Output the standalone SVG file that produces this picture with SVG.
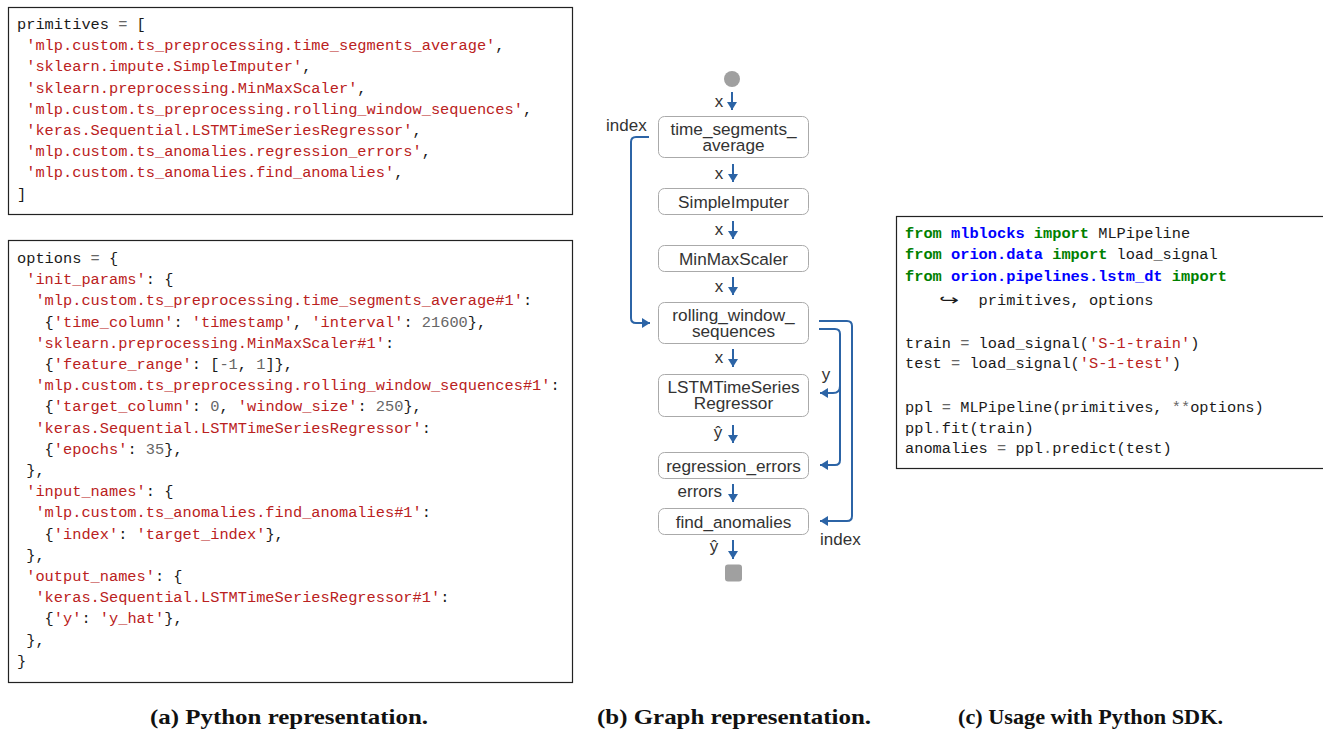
<svg xmlns="http://www.w3.org/2000/svg" width="1323" height="731" viewBox="0 0 1323 731">
<style>
.code{font-family:"Liberation Mono","DejaVu Sans Mono",monospace;font-size:15.33px;fill:#1a1a1a;white-space:pre}
.s{fill:#ba2121}
.o{fill:#666666}
.k{fill:#008000;font-weight:bold}
.nn{fill:#0000ff;font-weight:bold}
.box{fill:#ffffff;stroke:#222222;stroke-width:1.2}
.node rect{fill:#ffffff;stroke:#aaaaaa;stroke-width:1}
.nt{font-family:"Liberation Sans",Arial,sans-serif;font-size:17.2px;fill:#333333;text-anchor:middle}
.lb{font-family:"Liberation Sans",Arial,sans-serif;font-size:17px;fill:#333333}
.edge{fill:none;stroke:#2c64a6;stroke-width:2}
.cap{font-family:"Liberation Serif","Times New Roman",serif;font-weight:bold;font-size:22px;fill:#111111}
</style>
<defs>
<marker id="ah" viewBox="0 0 8 10" refX="8" refY="5" markerWidth="8" markerHeight="10" markerUnits="userSpaceOnUse" orient="auto">
<path d="M0,0 L8,5 L0,10 z" fill="#2c64a6"/>
</marker>
</defs>
<rect width="1323" height="731" fill="#ffffff"/>

<g id="primitives-box">
<rect class="box" x="8.5" y="7.5" width="564" height="207"/>
<text class="code" x="17" y="29">primitives <tspan class="o">=</tspan> [</text>
<text class="code" x="26.2" y="50.2"><tspan class="s">'mlp.custom.ts_preprocessing.time_segments_average'</tspan>,</text>
<text class="code" x="26.2" y="71.4"><tspan class="s">'sklearn.impute.SimpleImputer'</tspan>,</text>
<text class="code" x="26.2" y="92.6"><tspan class="s">'sklearn.preprocessing.MinMaxScaler'</tspan>,</text>
<text class="code" x="26.2" y="113.8"><tspan class="s">'mlp.custom.ts_preprocessing.rolling_window_sequences'</tspan>,</text>
<text class="code" x="26.2" y="135"><tspan class="s">'keras.Sequential.LSTMTimeSeriesRegressor'</tspan>,</text>
<text class="code" x="26.2" y="156.2"><tspan class="s">'mlp.custom.ts_anomalies.regression_errors'</tspan>,</text>
<text class="code" x="26.2" y="177.4"><tspan class="s">'mlp.custom.ts_anomalies.find_anomalies'</tspan>,</text>
<text class="code" x="17" y="198.6">]</text>
</g>

<g id="options-box">
<rect class="box" x="8.5" y="240.5" width="564" height="442"/>
<text class="code" x="17" y="263">options <tspan class="o">=</tspan> {</text>
<text class="code" x="26.2" y="284.2"><tspan class="s">'init_params'</tspan>: {</text>
<text class="code" x="35.4" y="305.4"><tspan class="s">'mlp.custom.ts_preprocessing.time_segments_average#1'</tspan>:</text>
<text class="code" x="44.6" y="326.6">{<tspan class="s">'time_column'</tspan>: <tspan class="s">'timestamp'</tspan>, <tspan class="s">'interval'</tspan>: <tspan class="o">21600</tspan>},</text>
<text class="code" x="35.4" y="347.8"><tspan class="s">'sklearn.preprocessing.MinMaxScaler#1'</tspan>:</text>
<text class="code" x="44.6" y="369">{<tspan class="s">'feature_range'</tspan>: [<tspan class="o">-1</tspan>, <tspan class="o">1</tspan>]},</text>
<text class="code" x="35.4" y="390.2"><tspan class="s">'mlp.custom.ts_preprocessing.rolling_window_sequences#1'</tspan>:</text>
<text class="code" x="44.6" y="411.4">{<tspan class="s">'target_column'</tspan>: <tspan class="o">0</tspan>, <tspan class="s">'window_size'</tspan>: <tspan class="o">250</tspan>},</text>
<text class="code" x="35.4" y="432.6"><tspan class="s">'keras.Sequential.LSTMTimeSeriesRegressor'</tspan>:</text>
<text class="code" x="44.6" y="453.8">{<tspan class="s">'epochs'</tspan>: <tspan class="o">35</tspan>},</text>
<text class="code" x="26.2" y="475">},</text>
<text class="code" x="26.2" y="496.2"><tspan class="s">'input_names'</tspan>: {</text>
<text class="code" x="35.4" y="517.4"><tspan class="s">'mlp.custom.ts_anomalies.find_anomalies#1'</tspan>:</text>
<text class="code" x="44.6" y="538.6">{<tspan class="s">'index'</tspan>: <tspan class="s">'target_index'</tspan>},</text>
<text class="code" x="26.2" y="559.8">},</text>
<text class="code" x="26.2" y="581"><tspan class="s">'output_names'</tspan>: {</text>
<text class="code" x="35.4" y="602.2"><tspan class="s">'keras.Sequential.LSTMTimeSeriesRegressor#1'</tspan>:</text>
<text class="code" x="44.6" y="623.4">{<tspan class="s">'y'</tspan>: <tspan class="s">'y_hat'</tspan>},</text>
<text class="code" x="26.2" y="644.6">},</text>
<text class="code" x="17" y="665.8">}</text>
</g>

<g id="sdk-box">
<rect class="box" x="896.5" y="216.5" width="440" height="252"/>
<text class="code" x="905" y="238"><tspan class="k">from</tspan> <tspan class="nn">mlblocks</tspan> <tspan class="k">import</tspan> MLPipeline</text>
<text class="code" x="905" y="259"><tspan class="k">from</tspan> <tspan class="nn">orion.data</tspan> <tspan class="k">import</tspan> load_signal</text>
<text class="code" x="905" y="281"><tspan class="k">from</tspan> <tspan class="nn">orion.pipelines.lstm_dt</tspan> <tspan class="k">import</tspan></text>
<text x="939" y="305" textLength="20" lengthAdjust="spacingAndGlyphs" style="font-family:'DejaVu Sans',sans-serif;font-size:15px;fill:#1a1a1a">↪</text>
<text class="code" x="978.6" y="305">primitives, options</text>
<text class="code" x="905" y="348">train <tspan class="o">=</tspan> load_signal(<tspan class="s">'S-1-train'</tspan>)</text>
<text class="code" x="905" y="368">test <tspan class="o">=</tspan> load_signal(<tspan class="s">'S-1-test'</tspan>)</text>
<text class="code" x="905" y="412">ppl <tspan class="o">=</tspan> MLPipeline(primitives, <tspan class="o">**</tspan>options)</text>
<text class="code" x="905" y="433">ppl<tspan class="o">.</tspan>fit(train)</text>
<text class="code" x="905" y="453">anomalies <tspan class="o">=</tspan> ppl<tspan class="o">.</tspan>predict(test)</text>
</g>

<g id="graph-input"><circle cx="732" cy="79" r="8" fill="#a0a0a0"/></g>
<g id="graph-output"><rect x="725" y="564.5" width="17" height="17" rx="3" fill="#a0a0a0"/></g>

<g id="node-time_segments_average" class="node">
<rect x="658.5" y="116.5" width="150" height="41" rx="6"/>
<text class="nt" x="733.5" y="135">time_segments_</text>
<text class="nt" x="733.5" y="151">average</text>
</g>
<g id="node-SimpleImputer" class="node">
<rect x="658.5" y="188.5" width="150" height="26" rx="6"/>
<text class="nt" x="733.5" y="207.5">SimpleImputer</text>
</g>
<g id="node-MinMaxScaler" class="node">
<rect x="658.5" y="245.5" width="150" height="26" rx="6"/>
<text class="nt" x="733.5" y="264.5">MinMaxScaler</text>
</g>
<g id="node-rolling_window_sequences" class="node">
<rect x="658.5" y="302.5" width="150" height="41" rx="6"/>
<text class="nt" x="733.5" y="320.5">rolling_window_</text>
<text class="nt" x="733.5" y="336.5">sequences</text>
</g>
<g id="node-LSTMTimeSeriesRegressor" class="node">
<rect x="658.5" y="374.5" width="150" height="42" rx="6"/>
<text class="nt" x="733.5" y="393">LSTMTimeSeries</text>
<text class="nt" x="733.5" y="409">Regressor</text>
</g>
<g id="node-regression_errors" class="node">
<rect x="658.5" y="452.5" width="150" height="26" rx="6"/>
<text class="nt" x="733.5" y="471.5">regression_errors</text>
</g>
<g id="node-find_anomalies" class="node">
<rect x="658.5" y="508.5" width="150" height="26" rx="6"/>
<text class="nt" x="733.5" y="527.5">find_anomalies</text>
</g>

<g id="connectors">
<path class="edge" marker-end="url(#ah)" d="M732,92 V110"/>
<path class="edge" marker-end="url(#ah)" d="M733,164 V182"/>
<path class="edge" marker-end="url(#ah)" d="M733,221 V239"/>
<path class="edge" marker-end="url(#ah)" d="M733,277 V295"/>
<path class="edge" marker-end="url(#ah)" d="M733,349 V367"/>
<path class="edge" marker-end="url(#ah)" d="M733,425 V443"/>
<path class="edge" marker-end="url(#ah)" d="M733,484 V502"/>
<path class="edge" marker-end="url(#ah)" d="M733,540 V559"/>
<path class="edge" marker-end="url(#ah)" d="M649,137 H636 Q631,137 631,142 V318 Q631,323 636,323 H650"/>
<path class="edge" marker-end="url(#ah)" d="M819,321 H847 Q852,321 852,326 V516 Q852,521 847,521 H820"/>
<path class="edge" marker-end="url(#ah)" d="M819,329 H835 Q840,329 840,334 V460 Q840,465 835,465 H820"/>
<path class="edge" marker-end="url(#ah)" d="M840,386 Q840,393 833,393 H820"/>
<text class="lb" x="719" y="107" text-anchor="middle">x</text>
<text class="lb" x="719" y="179" text-anchor="middle">x</text>
<text class="lb" x="719" y="235" text-anchor="middle">x</text>
<text class="lb" x="719" y="292" text-anchor="middle">x</text>
<text class="lb" x="719" y="363" text-anchor="middle">x</text>
<text class="lb" x="718" y="438" text-anchor="middle">ŷ</text>
<text class="lb" x="722" y="497" text-anchor="end">errors</text>
<text class="lb" x="714" y="552" text-anchor="middle">ŷ</text>
<text class="lb" x="606" y="131">index</text>
<text class="lb" x="826" y="380" text-anchor="middle">y</text>
<text class="lb" x="820" y="545">index</text>
</g>

<g id="captions">
<text class="cap" x="150" y="724" textLength="278" lengthAdjust="spacingAndGlyphs">(a) Python representation.</text>
<text class="cap" x="597" y="724" textLength="274" lengthAdjust="spacingAndGlyphs">(b) Graph representation.</text>
<text class="cap" x="958" y="724" textLength="265" lengthAdjust="spacingAndGlyphs">(c) Usage with Python SDK.</text>
</g>
</svg>
